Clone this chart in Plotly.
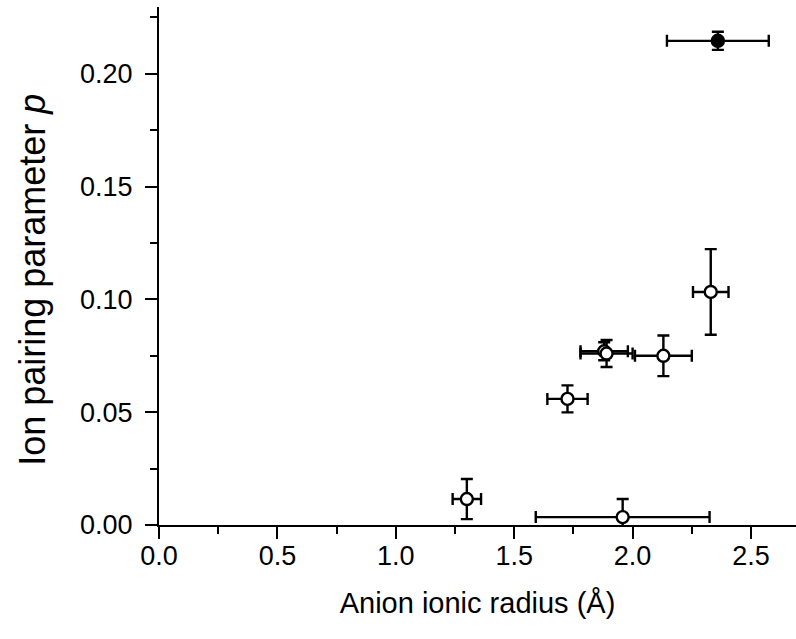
import plotly.graph_objects as go

# Open-circle points
open_x = [2.33, 2.13, 1.88, 1.89, 1.725, 1.30, 1.958]
open_y = [0.1033, 0.075, 0.077, 0.076, 0.0559, 0.0115, 0.0035]
open_xerr = [0.075, 0.12, 0.10, 0.11, 0.085, 0.06, 0.367]
open_yerr = [0.019, 0.009, 0.004, 0.006, 0.006, 0.0089, 0.008]

# Filled point
fill_x = [2.36]
fill_y = [0.2146]
fill_xerr = [0.215]
fill_yerr = [0.004]

FONT = "Liberation Sans, Arial, sans-serif"

fig = go.Figure()
err_style = dict(type="data", color="black", thickness=2.4, width=6, visible=True)

fig.add_trace(go.Scatter(
    x=open_x, y=open_y, mode="markers",
    error_x=dict(array=open_xerr, **err_style),
    error_y=dict(array=open_yerr, **err_style),
    marker=dict(symbol="circle", size=12, color="white",
                line=dict(color="black", width=2.4)),
    showlegend=False, cliponaxis=False,
))
fig.add_trace(go.Scatter(
    x=fill_x, y=fill_y, mode="markers",
    error_x=dict(array=fill_xerr, **err_style),
    error_y=dict(array=fill_yerr, **err_style),
    marker=dict(symbol="circle", size=13, color="black",
                line=dict(color="black", width=1.5)),
    showlegend=False, cliponaxis=False,
))

axis_common = dict(
    showline=True, linecolor="black", linewidth=2,
    ticks="outside", ticklen=12, tickwidth=2, tickcolor="black",
    showgrid=False, zeroline=False, mirror=False,
    tickfont=dict(family=FONT, size=27, color="black"),
)

fig.update_layout(
    width=796, height=639,
    margin=dict(l=159, r=0, t=7, b=114),
    plot_bgcolor="white", paper_bgcolor="white",
    xaxis=dict(
        range=[0, 2.69], dtick=0.5, tickformat=".1f", ticklabelstandoff=-6,
        minor=dict(dtick=0.25, ticks="outside", ticklen=7, tickwidth=2, tickcolor="black"),
        title=dict(text="Anion ionic radius (Å)", font=dict(family=FONT, size=29, color="black"), standoff=22),
        **axis_common,
    ),
    yaxis=dict(
        range=[0, 0.2296], dtick=0.05, tickformat=".2f", ticklabelstandoff=7,
        minor=dict(dtick=0.025, ticks="outside", ticklen=7, tickwidth=2, tickcolor="black"),
        **axis_common,
    ),
    annotations=[dict(
        text="Ion pairing parameter <i>p</i>", textangle=-90,
        xref="paper", yref="paper", x=-0.198, y=0.473,
        xanchor="center", yanchor="middle", showarrow=False,
        font=dict(family=FONT, size=36, color="black"),
    )],
)

fig.write_html("out.html")
